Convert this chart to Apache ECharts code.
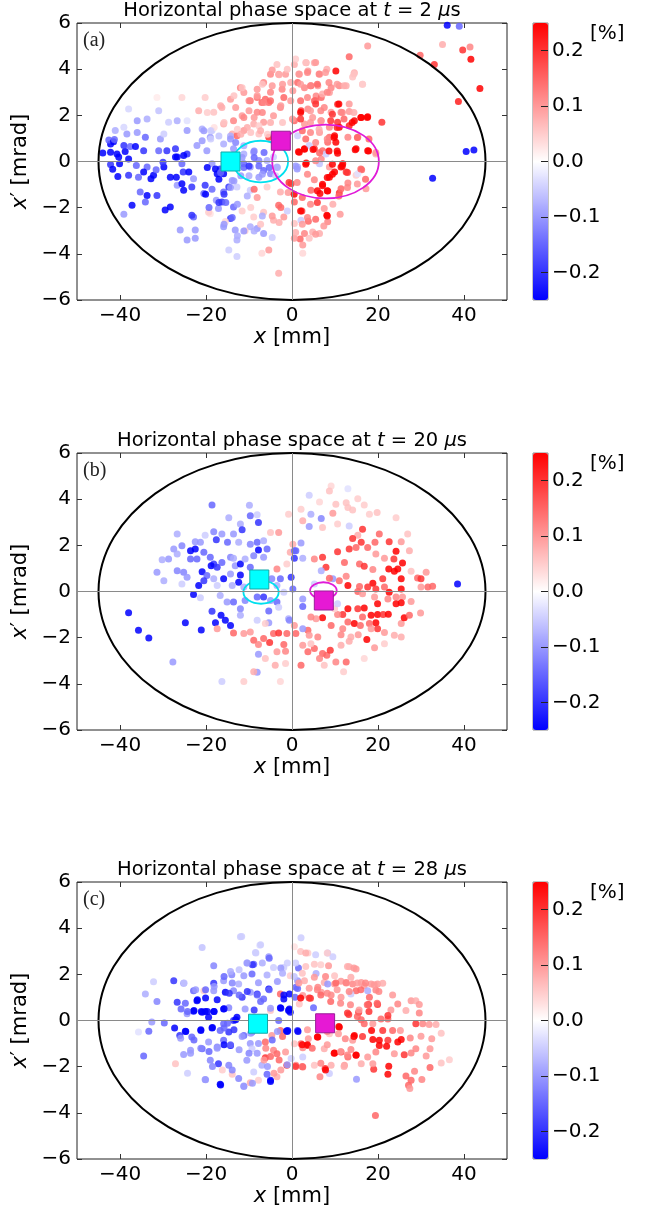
<!DOCTYPE html>
<html>
<head>
<meta charset="utf-8">
<script src="https://cdn.jsdelivr.net/npm/echarts@6/dist/echarts.min.js"></script>
<style>
html, body { margin: 0; padding: 0; background: #fff; }
#chart { width: 651px; height: 1212px; }
</style>
</head>
<body>
<div id="chart"></div>
<script>
// [x (mm), x' (mrad), momentum offset (%)]
const phaseA = [
  [-44,0.37,-0.25],[-42.2,0.76,-0.25],[-42.6,0.93,-0.15],[-42.2,0.4,-0.25],[-41.5,0.86,-0.25],[-40.7,0.33,-0.25],[-40.3,0.2,-0.25],[-42.2,-0.13,-0.2],[-41.7,-0.34,-0.25],[-40.5,-0.65,-0.25],
  [-40.1,-0.1,-0.25],[-38.8,0.43,-0.25],[-39.1,0.69,-0.2],[-38,0.11,-0.25],[-37.6,0.65,-0.15],[-36.4,0.65,-0.25],[-36.2,-0.17,-0.15],[-38,-0.6,-0.2],[-37.2,-1.9,-0.25],[-39.1,-2.28,-0.1],
  [-41.3,0.95,-0.15],[-38.4,1.19,-0.1],[-36,1.26,-0.1],[-34.1,1.05,-0.15],[-34.5,0.47,-0.2],[-33.7,-0.24,-0.15],[-34.5,-0.46,-0.25],[-35.7,-0.68,-0.15],[-32.2,-0.6,-0.25],[-32.8,-0.75,-0.25],
  [-31.6,-0.36,-0.15],[-33.7,-1.47,-0.25],[-35.3,-1.32,-0.15],[-34.1,-1.75,-0.15],[-31.4,-1.47,-0.2],[-29.8,-0.24,-0.25],[-30,-0.03,-0.2],[-31,0.47,-0.15],[-30.6,0.98,-0.1],[-29.1,0.47,-0.2],
  [-27.1,0.55,-0.2],[-28.3,-0.68,-0.25],[-26.9,-0.68,-0.25],[-29.5,-2.1,-0.25],[-28.3,-1.97,-0.25],[-27.1,0.19,-0.25],[-26.7,0.19,-0.25],[-25.6,-0.1,-0.15],[-25.3,-0.46,-0.2],[-26.7,-1.03,-0.1],
  [-25.6,-0.96,-0.25],[-25.2,-1.25,-0.25],[-24,-0.46,-0.25],[-24.4,0.33,-0.2],[-25.2,0.26,-0.25],[-24.4,1.34,-0.1],[-22.9,-0.75,-0.1],[-23.3,-1.1,-0.2],[-22.9,-2.4,-0.15],[-23.3,-2.33,-0.2],
  [-22.5,-2.97,-0.1],[-26,-2.97,-0.1],[-24.4,-3.4,-0.1],[-22.5,-3.33,-0.1],[-20.5,-1.39,-0.15],[-20.2,-1.03,-0.2],[-22.1,0.69,-0.1],[-20.9,0.9,-0.1],[-19.8,0.47,-0.1],[-19,1.05,-0.1],
  [-18.6,1.34,-0.05],[-18.6,-0.1,-0.1],[-17.4,-0.53,-0.25],[-16.7,-0.32,-0.2],[-17.6,-1.68,-0.1],[-16.3,-1.75,-0.2],[-17.1,-2.04,-0.1],[-15.9,-1.32,-0.15],[-14.7,-1.1,-0.2],[-14.3,-2.47,-0.2],
  [-13.6,-1.97,-0.15],[-15.9,-2.83,-0.1],[-13.2,-2.97,-0.1],[-12.8,-3.4,-0.08],[-14.7,-3.83,-0.05],[-12.8,-4.12,-0.05],[-9.7,-2.83,-0.08],[-8.1,-2.9,-0.1],[-8.9,-2.4,0.05],[-6.6,-3.12,-0.1],
  [-19,-2.26,0.03],[-19.4,-2.2,0.05],[-15.5,-2.6,0.04],[-10.9,-3.0,0.05],[-6.6,-2.2,0.06],
  [-31.4,2.77,0.02],[-25.6,2.77,0.04],[-20.2,2.77,0.05],[-21.7,2.2,0.08],[-18.2,2.13,0.06],[-16.3,2.34,0.08],[-14.3,2.7,0.1],[-12,3.2,0.12],[-11.2,2.99,0.1],[-9.7,2.63,0.14],
  [-8.1,2.77,0.14],[-7,2.56,0.15],[-6.2,2.7,0.15],[-5.4,2.56,0.15],[-5,3.78,0.12],[-3.1,3.78,0.1],[-4.6,3.28,0.1],[-2.3,3.13,0.12],[-1.9,2.77,0.15],[-2.7,2.34,0.12],
  [-4.3,1.98,0.1],[-8.1,2.13,0.12],[-10,2.2,0.1],[-11.6,1.98,0.1],[-13.6,1.77,0.12],[-15.9,1.62,0.08],[-13.9,1.19,0.08],[-12.8,1.12,0.15],[-11.2,1.34,0.1],[-8.9,1.62,0.08],
  [-6.6,1.7,0.1],[-7.7,1.19,0.06],[-5.4,1.05,0.2],[-8.1,3.13,0.1],[-6.6,3.42,0.12],[-3.5,4.2,0.06],[-1.5,3.78,0.1],
  [-13.6,0.55,-0.1],[-12.8,0.19,-0.15],[-11.2,-0.1,-0.15],[-9.7,-0.24,-0.1],[-11.2,0.33,-0.08],[-8.9,0.4,-0.1],[-7.7,0.04,-0.12],[-6.6,-0.39,-0.15],[-7.7,-0.68,-0.1],[-5,-0.53,-0.12],
  [-5.8,0.04,-0.08],[-4.3,0.19,-0.05],[-3.5,-0.24,-0.08],[-15.9,-0.53,-0.25],[-13.9,-0.82,-0.1],[-12.8,-1.1,-0.05],[-9.7,-1.25,-0.05],[-5.8,-1.1,0.05],[-2.7,-1.32,0.08],[-3.1,-1.9,0.15],
  [-4.3,-2.54,0.08],[-1.9,-2.4,0.1],[-5.4,-3.83,0.1],[-3.1,-4.84,0.08],[-7,-3.98,0.04],
  [-38,2.27,-0.04],[-33.7,1.84,-0.08],[-36,1.77,-0.1],[-31,2.2,-0.06],[-28.7,1.7,-0.05],[-26.7,1.77,-0.08],[-24.4,1.77,-0.03],[-29.8,1.19,-0.05],[-41.1,1.34,-0.08],[-39.1,1.48,-0.04],
  [-20.9,1.41,-0.08],[-15.9,0.76,-0.08],
  [10.2,3.92,0.25],[13.3,4.54,0.15],[17.6,5.0,0.1],[3.3,4.28,0.08],[5.2,4.28,0.08],[0.55,4.2,0.08],[1.7,3.78,0.1],[3.7,3.92,0.1],[6.4,3.78,0.1],[8.1,4.0,0.08],
  [14.5,3.85,0.08],[14.1,3.66,0.06],[1.3,3.42,0.15],[2.9,3.2,0.12],[4.4,3.28,0.15],[6,3.28,0.1],[9.1,3.2,0.12],[11,3.28,0.12],[12.6,3.28,0.08],[16.4,3.35,0.06],
  [0.2,3.06,0.1],[5.6,2.84,0.12],[6.8,2.77,0.15],[8.7,2.99,0.1],[10.6,2.48,0.2],[2.1,2.2,0.2],[3.7,2.27,0.12],[5.2,2.63,0.15],[7.5,2.34,0.12],[9.1,2.13,0.1],
  [11.4,2.13,0.12],[13.3,2.17,0.1],[14.5,1.77,0.25],[16.1,1.91,0.25],[17.6,1.94,0.25],[20.9,1.7,0.2],[13.3,1.55,0.22],[10.6,1.7,0.2],[11,1.48,0.25],[0.55,1.77,0.15],
  [2.9,1.62,0.1],[4.8,1.91,0.1],[6.8,1.77,0.12],[8.7,1.48,0.12],[6.4,1.26,0.1],[8.7,1.05,0.15],[9.9,1.12,0.25],[10.2,0.83,0.25],[10.6,0.36,0.25],[8.3,0.83,0.15],
  [13,1.05,0.12],[15.3,1.05,0.12],[14.9,0.55,0.25],[17.6,0.47,0.25],[19.5,0.33,0.08],[5.2,0.55,0.2],[2.9,0.55,0.25],[1.7,0.4,0.25],[7.1,0.47,0.15],[3.3,-0.07,0.25],
  [6.8,0.11,0.12],[11.8,-0.1,0.25],[11.4,-0.24,0.25],[8.7,-0.24,0.1],[9.9,-0.46,0.25],[12.6,-0.46,0.2],[16.2,-0.36,0.15],[8.7,-0.68,0.25],[7.1,-0.99,0.25],[5.2,-0.79,0.12],
  [4.4,-1.25,0.15],[6.5,-1.39,0.25],[8.3,-1.28,0.25],[11,-1.36,0.2],[11.4,-1.18,0.15],[13,-0.93,0.12],[17.2,-1.18,0.1],[14.9,-0.6,0.05],[9.5,-1.85,0.08],[11.2,-2.28,0.1],
  [8.1,-2.33,0.25],[7.5,-2.04,0.1],[2.3,-2.14,0.2],[3.8,-2.59,0.15],[8.3,-2.61,0.12],[2.9,-3.12,0.12],[4.8,-3.05,0.08],[6.4,-3.12,0.08],[1.9,-3.36,0.15],[4,-3.33,0.06],
  [2.5,-3.62,0.1],[0.55,-2.69,0.06],[0.55,-3.33,0.1],[2.5,-3.98,0.04],[0.55,-1.75,0.15],[-0.2,-0.96,0.2],
  [1.3,1.12,-0.05],[4,0.69,-0.05],[1.3,-0.24,-0.08],[6.4,-0.1,-0.06],[7.9,0.33,-0.05],[2.1,-2.54,-0.05],[15.3,-0.53,-0.03],
  [36.1,5.9,-0.25],[38.9,5.86,-0.15],[35,5.07,0.08],[39.7,4.83,0.2],[41.4,4.96,0.12],[41.6,4.43,0.25],[29.8,4.6,0.15],[33.1,4.2,0.2],[43.7,3.16,0.25],[38.7,2.6,0.22],
  [40.5,0.43,-0.25],[42.3,0.5,-0.25],[32.7,-0.73,-0.25],
  [5.5,4.29,0.1],[3.2,4.29,0.06],[0.85,4.44,0.05],[-4.6,3.96,0.1],[-3,3.76,0.08],[-1.1,4,0.06],[1.6,3.79,0.1],[3.6,3.86,0.12],[6.3,3.79,0.12],[7.8,3.86,0.1],
  [8.6,3.42,0.12],[10.5,3.35,0.1],[14.4,3.79,0.06],[16.4,3.35,0.05],[12.1,3.28,0.08],[5.9,3.35,0.15],[4.3,3.28,0.12],[2,3.35,0.1],[-0.3,3.42,0.08],[-2.2,3.35,0.1],
  [-6.9,3.35,0.06],[-11.6,3.2,0.06],[-8.1,2.85,0.1],[-5,3,0.12],[-6.5,2.56,0.12],[-5,2.63,0.15],[-10,2.63,0.12],[-13.5,2.85,0.06],[-16.6,2.41,0.08],[-19.7,2.12,0.05],
  [-13.1,2.34,0.1],[-11.2,1.91,0.12],[-8.8,1.91,0.1],[-6.9,2.12,0.12],[-2.6,2.41,0.1],[-0.3,2.63,0.1],[2,2.63,0.15],[3.6,2.77,0.12],[5.5,2.63,0.15],[7.1,2.92,0.08],
  [8.2,3,0.12],[10.9,2.49,0.25],[9.4,2.05,0.2],[11.7,2.12,0.12],[13.3,2.49,0.1],[14.4,2.12,0.08],[2,2.12,0.25],[4.3,2.2,0.1],[6.7,2.2,0.12],[5.5,2.49,0.2],
  [0.1,1.84,0.1],[-2.2,1.69,0.06],[-5,1.69,0.08],[-7.7,1.55,0.05],[-10.4,1.47,0.08],[-12.7,1.4,0.05],[-15.8,1.69,0.06],[-18.1,1.47,0.03],[-18.9,0.97,-0.05],[-17,1.11,-0.06],
  [-14.3,1.11,-0.08],[-11.9,1.18,0.08],[-9.6,1.26,0.06],[-7.3,1.33,0.08],[-5.7,1.18,0.05],[2,1.84,0.2],[4.3,1.69,0.1],[6.7,1.76,0.1],[9,1.76,0.2],[12.1,1.84,0.15],
  [16,1.91,0.25],[17.5,1.91,0.25],[14,1.69,0.25],[10.5,1.47,0.22],[2.4,1.33,0.15],[4.3,1.26,0.12],[6.3,1.4,0.08],[3.2,0.97,0.15],[5.5,0.82,0.12],[8.2,0.97,0.12],
  [9.8,1.04,0.25],[15.2,1.04,0.15],[17.9,0.97,0.15],[1.5,0.42,0.25],[2.9,0.53,0.25],[4.9,0.52,0.25],[6.4,0.38,0.15],[8.6,0.46,0.25],[10.5,0.46,0.25],[14.7,0.51,0.25],
  [17.8,0.46,0.25],[19.5,0.39,0.1],[3.2,-0.12,0.25],[5.5,0.03,0.12],[9.4,-0.12,0.25],[11.7,-0.19,0.25],[12.9,-0.48,0.2],[9.4,-0.55,0.25],[8.2,-0.69,0.25],[7.1,-1.05,0.25],
  [5.9,-1.27,0.25],[8.2,-1.27,0.25],[10.9,-1.49,0.15],[12.9,-1.13,0.12],[15.2,-0.98,0.1],[17.1,-0.77,0.15],[16,-0.33,0.15],[3.6,-0.55,0.12],[1.2,-0.91,0.12],[-0.7,-0.91,0.2],
  [-0.9,-1.34,0.1],[0.5,-1.42,0.25],[2.4,-1.56,0.15],[4.3,-1.85,0.12],[5.9,-1.78,0.2],[8.2,-2.36,0.25],[2,-2.14,0.25],[3.6,-2.43,0.12],[5.5,-2.5,0.15],[2.4,-2.72,0.1],
  [0.85,-3.08,0.08],[5.5,-3.15,0.1],[7.4,-2.79,0.1],[-2.6,-1.99,0.15],[-4.6,-2.36,0.1],[-3,-2.64,0.08],[-7.3,-2.72,0.06],[-8.8,-1.2,0.15],[-8.1,-1.56,0.1],[-9.6,-1.99,0.05],
  [-11.6,-2.14,0.05],
  [-19.7,-0.26,-0.25],[-17.8,-0.33,-0.25],[-17,-0.77,-0.25],[-16.6,-0.48,-0.15],[-20.1,-1.42,-0.25],[-18.6,-1.2,-0.15],[-15.8,-1.42,-0.2],[-14.3,-1.13,-0.1],[-19.3,-1.99,-0.15],[-17,-1.78,-0.2],
  [-15.4,-1.78,-0.15],[-12.7,-1.85,-0.1],[-10.4,-1.49,-0.08],[-13.5,-0.84,-0.1],[-11.2,-0.26,-0.15],[-10,-0.19,-0.2],[-7.7,-0.19,-0.15],[-5.3,-0.26,-0.15],[-6.9,-0.55,-0.1],[-11.9,-0.62,-0.1],
  [-10,-0.62,-0.08],[-3.8,-0.62,-0.05],[-3.4,-0.26,-0.08],[0.85,-0.19,-0.1],[1.2,-0.33,-0.1],[-18.9,1.33,-0.05],[-20.5,1.33,-0.1],[-14.3,0.97,-0.1],[-13.1,0.82,-0.12],[-11.2,0.68,-0.08],
  [-8.8,0.46,-0.12],[-6.5,0.39,-0.15],[-8.8,0.17,-0.15],[-11.6,0.17,-0.1],[-13.9,-2.43,-0.15],[-15.8,-2.72,-0.1],[-11.2,-3.01,-0.1],[-8.8,-3.01,-0.08],[-12.7,-3.22,-0.08],[-4.6,-3.29,-0.05],
  [-6.9,-2.36,-0.08],[-1.1,-2.14,-0.05]
];

const phaseB = [
  [-18.6,3.75,-0.15],[-9.9,3.74,-0.08],[-8.1,3.32,-0.05],[-14.7,3.2,-0.08],[-9.7,3.28,-0.15],[-7.8,2.99,-0.2],[-12,2.92,-0.08],[-11.6,2.67,-0.2],[-13.6,2.49,-0.1],[-16.3,2.49,-0.1],
  [-18.2,2.59,-0.12],[-20.2,2.44,-0.05],[-26.7,2.49,-0.08],[-22.5,2.16,-0.1],[-21.3,2.13,-0.1],[-17.6,2.24,-0.2],[-15,2.13,-0.15],[-12.4,2.13,-0.08],[-9.7,2.05,-0.12],[-8.1,2.13,-0.15],
  [-6.6,2.2,-0.08],[-25.6,1.98,-0.12],[-27.5,1.84,-0.1],[-30.2,1.38,-0.08],[-28.7,1.41,-0.1],[-26.7,1.62,-0.08],[-23.6,1.77,-0.25],[-22.5,1.84,-0.25],[-23.6,1.41,-0.15],[-22.1,1.41,-0.15],
  [-20.5,1.7,-0.15],[-19,1.48,-0.15],[-18.2,1.19,-0.2],[-18.8,1.12,-0.25],[-17.4,1.05,-0.2],[-16.3,1.26,-0.15],[-14.3,1.48,-0.12],[-13.2,1.12,-0.1],[-12,1.19,-0.25],[-13.6,1.44,-0.08],
  [-10.9,1.41,-0.08],[-7.8,1.8,-0.25],[-8.9,1.55,-0.12],[-6.6,1.48,-0.1],[-5.8,1.84,-0.15],[-31.4,0.83,-0.1],[-29.8,0.47,-0.08],[-26.7,0.9,-0.12],[-25.2,0.83,-0.12],[-24.4,0.62,-0.1],
  [-20.9,0.86,-0.25],[-19.8,0.69,-0.15],[-21.7,0.26,-0.25],[-20.5,0.47,-0.2],[-18.2,0.55,-0.08],[-15.9,0.55,-0.25],[-17.4,0.26,-0.05],[-14.3,0.76,-0.1],[-12,0.72,-0.25],[-12.4,0.4,-0.25],
  [-13.9,0.26,-0.08],[-11.2,0.19,-0.08],[-9.7,1.05,-0.15],[-4.7,0.55,-0.12],[-2.7,0.55,-0.15],[-3.5,0.26,-0.08],[-1.9,-0.03,-0.05],[-25.6,0.33,-0.05],[-22.9,-0.13,-0.25],[-21.3,-0.27,-0.05],
  [-16.7,-0.17,-0.08],[-15.1,-0.46,-0.1],[-13.6,-0.46,-0.15],[-10.9,-0.39,-0.12],[-8.1,-0.24,-0.15],[-6.6,-0.24,-0.2],[-5,-0.39,-0.1],[-3.5,-0.46,-0.15],[-38,-0.92,-0.25],[-35.7,-1.68,-0.25],
  [-33.3,-2.01,-0.25],[-27.7,-3.05,-0.1],[-24.8,-1.35,-0.25],[-21.1,-1.67,-0.25],[-18.6,-0.86,-0.2],[-16.5,-1.03,-0.25],[-15.5,-1.25,-0.25],[-17.8,-1.35,-0.25],[-14.3,-1.47,-0.25],[-12,-0.75,-0.12],
  [-12,-1.03,-0.08],[-5.4,-0.85,-0.15],[-8.1,-1.25,-0.05],[-7.8,-2.72,-0.1],[-8.1,-3.5,-0.1],[-16.3,-3.9,-0.05],[-5.4,-1.35,-0.1],[-3.1,-0.68,-0.05],[-0.8,-1.18,-0.08],
  [-17.4,-1.61,0.1],[-13.6,-1.8,0.15],[-11.2,-1.82,0.1],[-9.7,-1.75,0.1],[-8.9,-2.11,0.15],[-7.8,-2.3,0.12],[-6.6,-2.04,0.15],[-5.2,-2.21,0.2],[-4.3,-1.82,0.15],[-3.1,-1.8,0.2],
  [-1.9,-2.3,0.15],[-1.5,-2.59,0.12],[-1.2,-1.82,0.15],[-6.2,-1.39,0.05],[-3.5,-2.61,0.1],[-3.9,-3.19,0.08],[-1.5,-3.12,0.05],[-8.9,-3.48,0.08],[-11.2,-3.9,0.05],[-6.2,-2.9,0.06],
  [-2.7,-3.9,0.04],[-3.5,0.98,0.12],[-1.2,1.19,0.05],[-3.1,2.56,0.1],[-5,2.56,0.06],[-0.4,1.7,0.08],[-0.8,3.35,0.05],
  [9.1,4.57,0.04],[8.7,4.35,0.06],[13,4.45,-0.03],[15.3,4.02,0.05],[16.8,3.75,0.05],[12.6,3.85,0.06],[10.2,3.78,0.06],[6.4,3.88,0.04],[4,4.17,-0.05],[2.1,3.56,0.05],
  [4.4,3.35,-0.08],[6.8,3.16,-0.12],[9.5,3.39,0.1],[13,3.64,0.06],[14.1,3.53,0.06],[18,3.35,0.05],[19.8,3.42,0.06],[24.2,3.2,0.05],[2.5,3.06,0.08],[4,2.82,-0.1],
  [7.1,2.77,0.06],[10.6,2.92,0.05],[13.3,2.84,-0.05],[16.4,2.7,0.2],[15.3,2.44,0.08],[14.1,2.3,0.2],[16.1,2.13,0.2],[14.9,1.91,0.15],[13.3,1.84,0.2],[17.6,1.91,0.15],
  [19.3,2.13,0.15],[20.3,2.49,0.15],[22.6,2.16,0.2],[25.4,2.16,0.1],[26.9,2.49,0.06],[24.2,1.74,0.25],[27.3,1.77,0.08],[10.6,1.72,0.2],[7.1,1.48,0.2],[5.2,1.41,0.12],
  [2.1,2.1,-0.1],[0.2,2.05,0.08],[0.9,1.77,-0.15],[2.5,1.44,-0.08],[7.9,1.05,0.2],[12.2,1.26,0.15],[15.7,1.19,0.15],[16.8,1.09,0.2],[18.8,0.95,0.12],[19.5,1.62,0.1],
  [21.5,1.44,0.1],[23.7,1.41,0.2],[22.5,0.98,0.25],[23.8,0.88,0.25],[24.6,0.98,0.25],[25.7,1.24,0.25],[25.4,0.55,0.25],[27.7,0.88,0.06],[29.2,0.59,0.15],[30,0.55,0.2],
  [31.2,0.83,0.1],[30,0.19,0.1],[31.6,0.19,0.15],[32.7,0.23,0.15],[18.8,0.36,0.25],[21.1,0.55,0.2],[17.6,0.19,0.2],[19.5,0.11,0.2],[21.5,0.19,0.15],[25.4,0.11,0.25],
  [15.7,0.22,0.15],[13,0.26,0.25],[12.6,0.66,0.12],[11,0.47,0.15],[9.5,0.55,-0.1],[8.7,0.57,0.15],[15.3,0,0.15],[16.4,-0.1,0.1],[22.6,-0.03,0.25],[24.2,-0.24,0.12],
  [25.7,-0.24,0.1],[19.2,-0.24,0.1],[19.9,-0.53,0.25],[22.3,-0.32,0.12],[24.2,-0.53,0.25],[25.4,-0.49,0.25],[27.7,-0.43,0.1],[16.8,-0.72,0.25],[15.3,-0.75,0.2],[13,-0.75,0.25],
  [11.8,-1.0,0.2],[10.6,-1.0,0.12],[9.9,-0.75,0.05],[13,-1.32,0.15],[14.5,-1.39,0.25],[15.9,-1.47,0.15],[16.4,-1.1,0.15],[18.4,-1.03,0.25],[19.9,-1.0,0.25],[21.2,-1.0,0.2],
  [22.4,-0.99,0.25],[19.5,-1.35,0.25],[18,-1.39,0.15],[19.9,-1.61,0.2],[21.5,-1.78,0.1],[25.4,-1.39,0.1],[26.1,-1.14,0.25],[27.3,-1.03,0.15],[29.9,-0.93,0.1],[23.8,-1.9,0.08],
  [25.4,-1.97,0.08],[17.4,-2.08,0.25],[18.4,-1.61,0.1],[15.4,-1.87,0.1],[13.7,-1.97,0.08],[11.8,-1.61,0.12],[11.4,-1.87,0.12],[9.1,-1.47,0.15],[7.1,-1.14,0.25],[5.6,-1.18,0.1],
  [4.4,-1.1,0.12],[3.7,-1.68,0.15],[4,-1.9,0.1],[6,-1.97,0.12],[5.2,-2.47,0.15],[7.1,-2.69,0.15],[8.1,-2.76,0.15],[8.9,-2.54,0.2],[10.2,-3.05,0.12],[12.6,-3.05,0.15],
  [11.4,-2.33,0.08],[13.3,-2.16,0.08],[3.7,-2.61,0.15],[2.5,-2.33,0.1],[0.9,-1.82,0.15],[0.55,-1.47,0.1],[2.1,-3.19,0.15],[6.4,-2.9,0.12],[4.4,-2.26,0.06],[19.2,-2.44,0.1],
  [21.5,-2.26,0.05],[12,-3.48,0.05],[16.8,-2.9,0.04],[7.5,-3.19,0.06],
  [0.55,1.77,-0.15],[0.55,1.44,-0.2],[2.5,-0.32,-0.1],[2.5,-0.65,-0.15],[-0.2,0.62,-0.2],[0.2,0.11,-0.15],[2.5,-1.61,-0.1],[-0.6,-1.25,-0.12],[8.7,-0.39,-0.08],[10.6,-0.53,-0.05],
  [6.8,0.9,-0.08],[5.2,0.33,-0.05],[38.5,0.33,-0.25]
];

const phaseC = [
  [-12,3.63,-0.05],[-20.9,3.16,-0.06],[-7.5,3.26,-0.03],[-8.5,2.95,-0.05],[-5.4,2.76,-0.1],[-18.2,2.37,-0.12],[-10.5,2.49,-0.08],[-8.9,2.44,-0.15],[-14,1.98,-0.12],[-9.3,2.01,-0.15],
  [-5.8,1.97,-0.08],[-27.5,1.72,-0.2],[-25.2,1.61,-0.1],[-32.2,1.68,-0.05],[-18.2,1.61,-0.2],[-15.9,1.72,-0.1],[-12.4,1.58,-0.08],[-11.2,1.94,-0.1],[-7.8,1.64,-0.1],[-34.1,1.15,-0.08],
  [-31.4,0.82,-0.12],[-26.7,0.79,-0.2],[-24.8,0.75,-0.15],[-22.9,1.29,-0.15],[-20.5,1.29,0.05],[-18.2,1.29,-0.1],[-15.5,1.22,-0.25],[-13.6,1.29,-0.12],[-11.6,1.01,-0.2],[-9.7,1.22,-0.1],
  [-8.1,1.15,-0.2],[-5.4,1.36,-0.25],[-6.6,0.93,-0.15],[-2.7,1.15,0.15],[-1.9,0.93,-0.25],[-22.1,0.86,-0.25],[-20.9,0.36,-0.25],[-22.9,0.4,-0.25],[-20.2,0.39,-0.25],[-18.2,0.39,-0.25],
  [-19.4,0.14,-0.25],[-15.9,0.5,-0.25],[-14.7,0.55,-0.12],[-12.8,0.14,-0.25],[-13.6,0,-0.2],[-10.9,0.5,-0.1],[-25.8,0.5,-0.15],[-24.4,0.29,-0.1],[-29.7,-0.11,-0.15],[-32.6,-0.07,-0.1],
  [-33.3,-0.47,-0.15],[-35.7,-0.5,-0.03],[-27.3,-0.32,-0.25],[-26.1,-0.65,-0.2],[-24.8,-0.47,-0.25],[-23.3,-0.72,-0.15],[-21.2,-0.43,-0.25],[-18.6,-0.32,-0.25],[-16.7,-0.43,-0.15],[-15.9,-0.14,-0.15],
  [-14.7,-0.5,-0.2],[-14.3,-1.08,-0.25],[-15.9,-0.86,-0.15],[-17.4,-1.15,-0.12],[-19.4,-0.93,-0.1],[-20.9,-1.22,-0.15],[-19,-1.72,-0.12],[-17.1,-1.87,-0.2],[-14.7,-1.94,-0.12],[-23.6,-1.29,-0.1],
  [-25.2,-1.47,-0.1],[-34.5,-1.54,-0.15],[-27.1,-1.87,0.06],[-20.2,-2.56,-0.1],[-16.7,-2.76,-0.25],[-13.9,-2.33,0.06],[-12.4,-2.51,-0.12],[-11.2,-2.84,-0.1],[-9.7,-2.7,0.08],[-7.8,-2.59,0.05],
  [-5,-2.59,-0.25],[-5.8,-2.33,-0.15],[-3.5,-2.44,0.08],[-9.7,-1.0,-0.1],[-11.2,-0.65,-0.15],[-9.3,-0.5,-0.15],[-7.8,-1.0,-0.1],[-6.2,-0.93,0.15],[-4.3,-1.29,0.12],[-3.5,-1.44,0.15],
  [-6.2,-1.61,0.2],[-1.5,-1.36,0.1],[-1.2,-1.94,0.2],[-4.7,-0.65,0.1],[-2.7,-0.43,0.15],[-1.3,-0.46,-0.25],[-3.1,0,-0.15],[-2.7,0.55,-0.25],[-0.8,0.43,-0.25],[-5,0.43,0.06],
  [-10.5,-1.72,-0.1],[-8.9,-2.23,-0.05],[-7,-1.94,-0.08],[-9.3,-1.22,-0.05],[-0.4,1.94,0.05],[-4.3,2.3,-0.05],[-1.9,2.3,-0.05],
  [2.1,3.59,-0.05],[0.55,3.2,0.03],[3.7,2.92,0.05],[8.3,2.92,-0.06],[9.5,2.76,-0.05],[1.5,2.27,-0.15],[5.2,2.44,0.06],[8.5,2.37,0.1],[5.6,2.04,-0.08],[13.3,2.33,0.08],
  [14.9,2.23,0.1],[13.7,1.87,0.08],[2.9,1.72,0.08],[5.2,1.87,0.1],[7.5,1.65,0.08],[9.9,1.94,0.06],[11.4,1.7,0.1],[12.6,1.65,0.12],[14.1,1.58,0.12],[16.1,1.65,0.1],
  [16.8,1.51,0.1],[18.4,1.58,0.1],[19.9,1.58,0.1],[21.1,1.61,0.08],[14.9,1.29,0.15],[19.5,1.32,0.12],[23.4,1.11,0.1],[1.3,1.39,-0.15],[2.5,1.08,0.1],[4.3,0.96,0.2],
  [6.8,1.22,0.1],[9.1,1.11,0.12],[9.9,1.58,0.1],[11.4,1.01,0.1],[18,1.01,0.15],[19.9,0.69,0.2],[24.6,0.72,0.12],[23,0.46,0.1],[27.7,0.86,0.1],[28.8,0.86,0.08],
  [29.6,0.69,0.1],[26.5,0.43,0.08],[29.6,0.32,0.12],[13.2,0.26,0.2],[15.5,0.36,0.2],[16.1,0.03,0.15],[17.8,0.69,0.2],[22.3,0.07,0.15],[22.3,0.22,0.2],[20.7,0.07,0.15],
  [16.8,-0.14,0.15],[18.8,-0.14,0.1],[18.5,-0.43,0.25],[21.1,-0.43,0.2],[23.4,-0.43,0.15],[25.2,-0.43,0.1],[28.8,-0.14,0.2],[30.4,-0.14,0.12],[31.9,-0.17,0.1],[33.5,-0.17,0.08],
  [34.7,-0.55,0.06],[32.5,-0.79,0.1],[30,-0.68,0.1],[27.5,-0.76,0.12],[25.4,-0.82,0.25],[24.6,-0.93,0.25],[22.3,-0.86,0.2],[20.3,-0.86,0.25],[20.3,-1.08,0.25],[22,-1.12,0.25],
  [18.8,-0.82,0.25],[16.4,-0.69,0.2],[14.5,-0.65,0.25],[14.1,-0.86,0.1],[12.4,-0.79,0.12],[11,-0.29,0.25],[10.8,-0.57,0.1],[8.7,-0.57,0.06],[6,-0.72,0.25],[3.8,-0.79,0.1],
  [2.1,-1.01,0.15],[3.5,-1.08,0.2],[2.5,-1.18,0.12],[13.7,-1.26,0.12],[14.9,-1.51,0.25],[13,-1.58,0.15],[11.4,-1.36,0.2],[9.9,-1.41,0.25],[7.5,-1.22,0.08],[19.5,-1.36,0.12],
  [23.8,-1.44,0.1],[26.1,-1.48,0.2],[27.7,-1.41,0.12],[28.8,-1.22,0.12],[31.2,-1.54,0.1],[32.1,-1.22,0.1],[34.7,-1.84,0.06],[36.6,-1.7,0.05],[32.1,-2.04,0.15],[28.5,-2.2,0.12],
  [26.5,-2.4,0.15],[27.7,-2.59,0.15],[30.2,-2.56,0.12],[27.1,-2.8,0.15],[27.4,-2.95,0.1],[22.5,-1.98,0.25],[22.3,-2.33,0.25],[19,-2.11,0.2],[18.8,-1.87,0.1],[17.6,-1.58,0.1],
  [16.1,-1.87,0.08],[12.2,-1.94,0.1],[9.1,-1.94,0.08],[7.7,-2.08,0.2],[6.5,-2.44,0.12],[5.2,-1.94,0.06],[2.5,-2.01,0.15],[0.9,-1.94,0.12],[15,-2.54,-0.1],[8.7,-2.3,-0.05],
  [19.4,-4.12,0.15],[0.55,-1.01,0.06],[1.7,0.72,0.06],[6,1.44,0.12],
  [-0.6,1.15,-0.25],[0.7,1.01,-0.15],[-0.6,0.5,-0.25],[-0.4,0.36,-0.25],[1.3,-0.43,-0.2],[-1,-0.43,-0.25],[5,0.55,-0.15],[0.9,1.44,-0.15],[13.7,1.15,-0.05],[17.6,1.29,-0.08],
  [1.3,1.72,-0.1],[8.3,1.58,-0.1],[2.5,-1.58,-0.05],[-0.2,-1.65,-0.05],
  [-11.7,3.64,-0.05],[-7.3,3.28,-0.05],[-8.4,2.92,-0.05],[-5.3,2.7,-0.15],[-6.9,2.49,-0.08],[-9.2,2.41,-0.2],[-10.4,2.49,-0.1],[-14.3,2.12,-0.08],[-12.3,2.2,-0.06],[-2.6,2.27,-0.1],
  [-1.1,2.49,-0.05],[0.85,2.49,-0.05],[2,2.99,0.06],[3.2,2.92,0.08],[5.5,2.85,-0.05],[8.2,2.92,0.05],[3.2,2.34,0.06],[6.7,2.41,0.05],[12.9,2.34,0.08],[14.4,2.27,0.1],
  [7.8,1.91,0.12],[10.2,1.62,0.15],[12.6,1.62,0.12],[15.2,1.62,0.1],[17.1,1.62,0.12],[19.1,1.55,0.1],[20.2,1.26,0.12],[16,1.33,0.15],[13.3,1.26,0.12],[10.5,1.33,0.1],
  [8.2,1.18,0.12],[5.9,1.33,0.12],[4,1.4,0.1],[2,0.97,0.25],[4,0.97,0.2],[6.7,1.11,0.15],[9,0.82,0.15],[11.3,0.75,0.12],[13.6,0.68,0.12],[15.6,0.46,0.1],
  [17.5,0.68,0.15],[17.9,0.39,0.2],[19.8,0.75,0.15],[12.9,0.32,0.2],[15.2,0.17,0.15],[10.9,-0.26,0.25],[14.4,-0.69,0.25],[14.9,-1.49,0.25],[12.9,-1.49,0.12],[9.8,-1.42,0.25],
  [11.3,-1.34,0.1],[5.9,-0.72,0.25],[8.2,-0.48,0.12],[3.6,-0.4,0.1],[2.4,-1.05,0.25],[3.6,-1.05,0.25],[4.7,-1.2,0.15],[8.2,-1.05,0.1],[6.7,-1.85,0.12],[7.8,-2.14,0.25],
  [12.1,-1.99,0.08],[0.85,-1.99,0.2],[2.4,-1.99,0.15],[-1.1,-1.92,-0.1],[-3,-1.71,0.15],[-5,-1.56,0.15],[-5.7,-1.99,-0.1],[-4.2,-2.28,0.1],[-2.6,-2.14,0.1],[-5,-2.64,-0.25],
  [-9.2,-2.72,-0.1],[-11.2,-2.86,-0.1],[-16.6,-2.79,-0.25],[-13.9,-2.14,-0.12],[-16.2,-2.14,0.05],[-18.5,-1.99,-0.12],[-20.1,-2.57,-0.1],[-24.3,-2.28,-0.05],[-23.6,-1.42,-0.1],[-21.2,-1.2,-0.12],
  [-19.3,-1.34,-0.15],[-17.4,-1.2,-0.1],[-15.8,-1.05,-0.25],[-14.3,-1.05,-0.15],[-12.3,-1.27,-0.1],[-10,-1.42,-0.12],[-8.1,-1.42,-0.1],[-6.5,-1.71,0.1],[-6.1,-1.2,0.12],[-4.6,-0.84,-0.15],
  [-2.2,-0.69,0.15],[-1.1,-0.48,-0.25],[1.4,-0.48,-0.25],[-3.4,-0.48,-0.1],[-9.6,-0.55,-0.1],[-11.6,-0.69,-0.1],[-13.5,-0.4,-0.2],[-15.8,-0.33,-0.15],[-18.5,-0.3,-0.25],[-21.2,-0.4,-0.25],
  [-24.7,-0.48,-0.25],[-22.8,-0.84,-0.15],[-25.9,-0.77,-0.1],[-13.1,0.03,-0.25],[-15,-0.12,-0.15],[-18.1,0.39,-0.25],[-19.7,0.39,-0.25],[-21.1,0.39,-0.25],[-22.8,0.43,-0.25],[-24.3,0.39,-0.15],
  [-22,0.9,-0.25],[-20.1,0.97,-0.25],[-17.4,0.9,-0.25],[-15.8,0.51,-0.25],[-14.6,1.18,-0.2],[-12.3,1.11,-0.15],[-10.4,1.26,-0.2],[-8.1,1.11,-0.15],[-8.8,0.46,-0.2],[-7.3,0.82,-0.15],
  [-5.3,1.33,-0.15],[-5,0.53,-0.1],[-2.6,0.53,-0.25],[-0.7,0.46,-0.25],[-1.9,1.11,-0.25],[-3.4,1.69,-0.1],[-2.2,2.05,-0.08],[-18.1,1.47,-0.1],[-20.1,1.33,-0.15],[-22.4,1.33,-0.1],
  [-25.1,1.62,-0.06],[-15.8,1.91,-0.15],[-13.9,1.62,-0.12],[0.5,1.91,-0.06],[1.6,1.62,0.1],[2.4,2.05,0.06]
];

// [cx, cy, rx, ry] in data units
const aperture = [0, 0, 45, 6];
const cyanEllipse = [[-7.3, 0, 6.4, 0.9], [-7.2, -0.03, 4.1, 0.5], null];
const magentaEllipse = [[7.8, 0, 12.4, 1.6], [7.3, 0.04, 3.1, 0.36], null];
// beam centroids
const cyanSquare = [[-14.3, 0], [-7.6, 0.52], [-7.9, -0.14]];
const magentaSquare = [[-2.6, 0.9], [7.4, -0.39], [7.7, -0.12]];

const times = ['2', '20', '28'];
const letters = ['(a)', '(b)', '(c)'];
const xTicks = [-40, -20, 0, 20, 40];
const barTicks = [-0.2, -0.1, 0, 0.1, 0.2];

const FONT = 'DejaVu Sans';
const tops = [23, 453, 882];
const plotLeft = 77, plotW = 430, plotH = 277;
const barLeft = 533, barW = 15;

const minus = v => (v < 0 ? '\u2212' + Math.abs(v) : String(v));
const italic = { fontStyle: 'italic', fontFamily: FONT };

let grid = [], xAxis = [], yAxis = [], series = [], visualMap = [], graphic = [];
const panels = [phaseA, phaseB, phaseC];

panels.forEach((pts, i) => {
  const top = tops[i];
  grid.push({ left: plotLeft, top: top, width: plotW, height: plotH, show: true, borderColor: '#222', borderWidth: 1 });
  grid.push({ left: barLeft, top: top, width: barW, height: plotH, show: true, borderColor: '#888', borderWidth: 1 });
  const g = 2 * i;

  const tick = { inside: true, length: 5, lineStyle: { color: '#333', width: 1 } };
  const noLine = { show: false, onZero: false };
  xAxis.push({
    gridIndex: g, type: 'value', min: -50, max: 50, position: 'bottom',
    axisLine: noLine, splitLine: { show: false },
    axisTick: Object.assign({ customValues: xTicks }, tick),
    axisLabel: { customValues: xTicks, formatter: minus, fontSize: 20, fontFamily: FONT, color: '#000', margin: 6 },
    name: '{i|x} [mm]', nameLocation: 'middle', nameGap: 27,
    nameTextStyle: { fontSize: 21, fontFamily: FONT, color: '#000', rich: { i: Object.assign({ fontSize: 21 }, italic) } }
  });
  xAxis.push({
    gridIndex: g, type: 'value', min: -50, max: 50, position: 'top',
    axisLine: noLine, splitLine: { show: false },
    axisTick: Object.assign({ customValues: xTicks }, tick), axisLabel: { show: false }
  });
  xAxis.push({ gridIndex: g + 1, type: 'value', min: 0, max: 1, show: false, axisLine: noLine });

  yAxis.push({
    gridIndex: g, type: 'value', min: -6, max: 6, interval: 2, position: 'left',
    axisLine: noLine, splitLine: { show: false }, axisTick: tick,
    axisLabel: { formatter: minus, fontSize: 20, fontFamily: FONT, color: '#000', margin: 6 },
    name: '{i|x}\u2032 [mrad]', nameLocation: 'middle', nameGap: 38, nameRotate: 90,
    nameTextStyle: { fontSize: 21, fontFamily: FONT, color: '#000', rich: { i: Object.assign({ fontSize: 21 }, italic) } }
  });
  yAxis.push({
    gridIndex: g, type: 'value', min: -6, max: 6, interval: 2, position: 'right',
    axisLine: noLine, splitLine: { show: false }, axisTick: tick, axisLabel: { show: false }
  });
  yAxis.push({
    gridIndex: g + 1, type: 'value', min: -0.25, max: 0.25, position: 'right', z: 10,
    axisLine: noLine, splitLine: { show: false },
    axisTick: { inside: true, length: 7, customValues: barTicks, lineStyle: { color: '#222', width: 1 } },
    axisLabel: {
      customValues: barTicks, fontSize: 20, fontFamily: FONT, color: '#000', margin: 4,
      formatter: v => (v < 0 ? '\u2212' : '') + Math.abs(v).toFixed(1)
    }
  });

  const ax = 3 * i;
  series.push({
    type: 'scatter', xAxisIndex: ax, yAxisIndex: ax, data: pts,
    symbolSize: 7, itemStyle: { opacity: 0.85 }, z: 2, silent: true
  });

  const ells = [{ value: aperture, itemStyle: { color: '#000' } }];
  if (cyanEllipse[i]) ells.push({ value: cyanEllipse[i], itemStyle: { color: '#00e0ee' } });
  if (magentaEllipse[i]) ells.push({ value: magentaEllipse[i], itemStyle: { color: '#e01ad8' } });
  series.push({
    type: 'custom', xAxisIndex: ax, yAxisIndex: ax, data: ells, z: 3, silent: true,
    renderItem: (params, api) => {
      const c = api.coord([api.value(0), api.value(1)]);
      const s = api.size([api.value(2), api.value(3)]);
      return {
        type: 'ellipse',
        shape: { cx: c[0], cy: c[1], rx: s[0], ry: s[1] },
        style: { fill: 'none', stroke: api.visual('color'), lineWidth: params.dataIndex === 0 ? 2 : 1.8 }
      };
    },
    markLine: {
      silent: true, symbol: 'none', label: { show: false }, animation: false,
      lineStyle: { color: '#8a8a8a', width: 1, type: 'solid' },
      data: [{ xAxis: 0 }, { yAxis: 0 }]
    }
  });

  series.push({
    type: 'scatter', xAxisIndex: ax, yAxisIndex: ax, symbol: 'rect', symbolSize: 19, z: 5, silent: true,
    data: [
      { value: cyanSquare[i], itemStyle: { color: '#00ffff', borderColor: '#14a8a8', borderWidth: 1, opacity: 1 } },
      { value: magentaSquare[i], itemStyle: { color: '#e619d4', borderColor: '#9a1d98', borderWidth: 1, opacity: 1 } }
    ]
  });

  visualMap.push({
    type: 'continuous', seriesIndex: 3 * i, dimension: 2, min: -0.25, max: 0.25,
    inRange: { color: ['#0000ff', '#ffffff', '#ff0000'] },
    left: barLeft, top: top, itemWidth: barW, itemHeight: plotH, padding: 0,
    calculable: false, hoverLink: false, text: null, showLabel: false
  });

  graphic.push({
    type: 'text', x: 292, y: top - 12, z: 20,
    style: {
      text: 'Horizontal phase space at {i|t} = ' + times[i] + ' {i|\u03bc}s',
      fontSize: 19.5, fontFamily: FONT, fill: '#000', align: 'center', verticalAlign: 'middle',
      rich: { i: Object.assign({ fontSize: 19.5 }, italic) }
    }
  });
  graphic.push({
    type: 'text', x: 83, y: top + 8, z: 20,
    style: { text: letters[i], fontSize: 20, fontFamily: 'Liberation Serif', fill: '#222', align: 'left', verticalAlign: 'top' }
  });
  graphic.push({
    type: 'text', x: 590, y: top + 1, z: 20,
    style: { text: '[%]', fontSize: 20, fontFamily: FONT, fill: '#000', align: 'left', verticalAlign: 'top' }
  });
});

const chart = echarts.init(document.getElementById('chart'));
chart.setOption({
  animation: false,
  backgroundColor: '#fff',
  grid, xAxis, yAxis, series, visualMap, graphic
});
</script>
</body>
</html>
